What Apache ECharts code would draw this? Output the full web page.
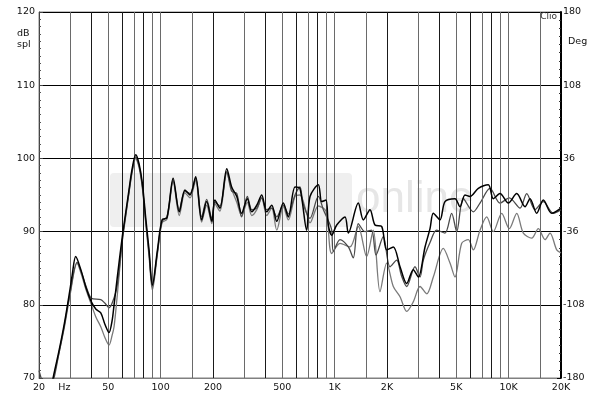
<!DOCTYPE html>
<html>
<head>
<meta charset="utf-8">
<script src="https://cdn.jsdelivr.net/npm/echarts@6/dist/echarts.min.js"></script>
<style>
html,body{margin:0;padding:0;background:#fff;}
#chart{width:600px;height:396px;}
</style>
</head>
<body>
<div id="chart"></div>
<script>
// axis labels (Hz) and the vertical grid lines of the Clio plot
var tickHz = [20, 28, 50, 100, 200, 500, 1000, 2000, 5000, 10000, 20000];
var tickText = ['20', 'Hz', '50', '100', '200', '500', '1K', '2K', '5K', '10K', '20K'];
var gridHz = [30, 40, 50, 60, 70, 80, 90, 100, 150, 200, 300, 400, 500, 600, 700, 800, 900,
  1000, 1500, 2000, 3000, 4000, 5000, 6000, 7000, 8000, 9000, 10000, 15000];

// measured curves, [Hz, dB spl]
var curveBlack = [[20,62],[21.7,64],[24.1,70],[26,73.6],[28,77.5],[30,81.8],[31,84],[32.5,86.6],[35,84.6],[37.3,82.3],
  [40,80.4],[42.5,79.4],[45.3,78.9],[47.9,77.3],[50.5,76.2],[52.6,77.8],[54,80],[56.2,83.5],[60.2,89.3],[63.2,92.8],
  [65.8,95.7],[68.5,98.5],[71.9,100.5],[75.1,99.3],[78.5,96.6],[82.4,91.5],[85.8,87.5],[89.7,82.7],[95.9,87.5],[101.9,91.6],
  [108.8,91.9],[118,97.3],[128,92.7],[138,95.7],[147.5,95],[159,97.5],[172,91.6],[184,94.1],[197,91.4],[205,94.3],
  [219,93.2],[240,98.6],[256,96.1],[274,94.8],[292,92.5],[315,94.5],[334,92.7],[357,93.6],[381,95],[407,92.7],
  [435,93.6],[465,91.4],[507,93.9],[542,92],[592,96.1],[632,95.9],[691,90.2],[722,94.8],[806,96.4],[843,94.1],
  [892,94.3],[920,90.9],[962,89.5],[1028,90.9],[1147,92],[1199,89.8],[1368,93.9],[1462,91.6],[1597,93],[1706,90.9],
  [1864,90.7],[1992,87.5],[2174,87.9],[2376,85.2],[2596,82.9],[2832,84.8],[3026,83.8],[3308,87.9],[3534,90.4],[3692,92.5],
  [4032,91.6],[4308,94.1],[4918,94.5],[5254,93.4],[5614,95],[5998,94.8],[6696,95.9],[7642,96.4],[8164,94.5],[8920,95.2],
  [9958,93.9],[11130,95.2],[12424,93.4],[13270,94.5],[14500,92.5],[15826,94.3],[17688,92.5],[20000,93.2]];

var curveDark = [[20,71],[20.8,69.5],[21.7,67],[24.1,69.5],[26,73.3],[28,77.2],[30,81.3],[33.1,85.8],[35,84.5],[37.3,82.5],
  [40,80.9],[45.3,80.7],[47.9,80.2],[50.5,79.6],[52.6,80.2],[56.2,82.5],[60.2,88.8],[63.2,92.5],[65.8,95.4],[68.5,98.2],
  [71.9,100.2],[75.1,99],[78.5,96.2],[82.4,91],[85.8,87],[89.7,82.4],[95.9,87.2],[101.9,91.4],[108.8,92],[118,97],
  [128,93],[138,95.5],[147.5,95.2],[159,97.3],[172,92],[184,94.4],[197,91.8],[205,94],[219,93.5],[240,98.2],
  [256,95.5],[274,95.2],[292,92],[315,94.8],[334,93],[357,93.2],[381,94.6],[407,93],[435,93.2],[465,92],
  [507,93.6],[542,92.4],[592,95],[632,96.1],[658,93.9],[722,91.8],[806,94.8],[862,93],[920,91.5],[962,90.2],
  [983,87.3],[1074,88.9],[1199,87.9],[1280,86.4],[1368,91.1],[1494,90],[1630,90.2],[1730,86.8],[1904,89.3],[2080,85.2],
  [2274,86.1],[2420,84],[2596,82.5],[2896,85.2],[3096,83.8],[3234,86.1],[3534,88.5],[3860,90.2],[4308,89.8],[4708,92.5],
  [5030,90],[5490,94.5],[6266,92.7],[6848,93.9],[7816,95.9],[8920,93.9],[10092,94.6],[11628,93.2],[12706,95.2],[14176,93],
  [15826,94.1],[18064,92.5],[20000,93]];

var curveLight = [[20,61],[24.1,69.8],[26,73.3],[28,77],[30,81],[33.1,85.7],[35,84.2],[37.3,82],[40,80],[42.5,78.3],
  [45.3,77],[47.9,75.5],[50.5,74.5],[52.6,75.8],[54,77],[56.2,81],[60.2,88.6],[63.2,92.3],[65.8,95.3],[68.5,98],
  [71.9,100],[75.1,98.8],[78.5,96],[82.4,90.8],[85.8,86.6],[89.7,82],[95.9,87],[101.9,91.2],[108.8,91.7],[118,96.8],
  [128,92.2],[138,95.3],[147.5,94.6],[159,97],[172,91.3],[184,93.6],[197,91.1],[205,93.8],[219,92.8],[240,98],
  [256,95.8],[274,94],[292,92.2],[315,94],[334,92.2],[357,93],[381,94.6],[407,92.2],[435,93.2],[465,90.2],
  [507,93.4],[542,91.6],[592,94.8],[632,95],[691,92.5],[722,91.2],[806,93.5],[892,92.8],[962,87],[1074,88.4],
  [1226,87.9],[1368,90.7],[1528,86.6],[1668,90.2],[1823,81.8],[1992,85.7],[2174,82.5],[2376,81.1],[2596,79.1],[2832,80.4],
  [3096,82.5],[3384,81.5],[3692,83.8],[4214,87.7],[4604,85.7],[4918,83.8],[5374,88.4],[5866,88.9],[6266,87.5],[6848,90.2],
  [7482,92],[8164,90],[9124,92.5],[10092,90.4],[11130,92.5],[12146,89.8],[13572,89.1],[14810,90.4],[16184,88.9],[17294,89.8],
  [18896,87.5],[20000,87.1]];

function toLog(arr) {
  return arr.map(function (p) { return [Math.log10(p[0]), p[1]]; });
}

var font = 'DejaVu Sans';
var gridLines = gridHz.map(function (hz) {
  var d = hz / Math.pow(10, Math.floor(Math.log10(hz)));
  var dark = (d === 2 || d === 4 || d === 6 || d === 8);
  return { xAxis: Math.log10(hz), lineStyle: { color: dark ? '#1a1a1a' : '#6a6a6a', width: 1, type: 'solid' } };
});

var chart = echarts.init(document.getElementById('chart'));
var option = {
  animation: false,
  backgroundColor: '#fff',
  grid: { left: 39, right: 39, top: 12, bottom: 18, show: true, borderColor: '#808080', borderWidth: 1 },
  xAxis: {
    type: 'value',
    min: Math.log10(20),
    max: Math.log10(20000),
    axisLine: { show: true, lineStyle: { color: '#808080', width: 1 } },
    axisTick: { show: false },
    splitLine: { show: false },
    axisLabel: {
      customValues: tickHz.map(function (h) { return Math.log10(h); }),
      margin: 5,
      color: '#111',
      fontFamily: font,
      fontSize: 9.5,
      formatter: function (v) {
        for (var i = 0; i < tickHz.length; i++) {
          if (Math.abs(Math.log10(tickHz[i]) - v) < 1e-6) return tickText[i];
        }
        return '';
      }
    }
  },
  yAxis: [{
    type: 'value',
    min: 70, max: 120, interval: 10,
    position: 'left',
    axisLine: { show: true, lineStyle: { color: '#444', width: 1 } },
    axisTick: { show: true, inside: true, length: 4, lineStyle: { color: '#444' } },
    minorTick: { show: true, splitNumber: 10, length: 2, lineStyle: { color: '#555' } },
    splitLine: { show: true, lineStyle: { color: '#000', width: 1 } },
    axisLabel: { color: '#111', fontFamily: font, fontSize: 9.5, margin: 4 }
  }, {
    type: 'value',
    min: 0, max: 360, interval: 72,
    position: 'right',
    axisLine: { show: true, lineStyle: { color: '#000', width: 2 } },
    axisTick: { show: true, inside: true, length: 4, lineStyle: { color: '#000' } },
    minorTick: { show: true, splitNumber: 9, length: 2, lineStyle: { color: '#333' } },
    splitLine: { show: false },
    axisLabel: {
      color: '#111', fontFamily: font, fontSize: 9.5, margin: 2,
      formatter: function (v) { return String(v - 180); }
    }
  }],
  graphic: [
    { type: 'rect', z: 0, shape: { x: 110, y: 173, width: 242, height: 54, r: 4 }, style: { fill: '#efefef' } },
    { type: 'text', z: 0, left: 356, top: 178, style: { text: 'online', fill: '#e6e6e6', font: '44px "Liberation Sans"' } },
    { type: 'text', z: 10, left: 17, top: 28, style: { text: 'dB\nspl', fill: '#111', font: '9.5px "DejaVu Sans"', lineHeight: 11 } },
    { type: 'text', z: 10, left: 568, top: 37, style: { text: 'Deg', fill: '#111', font: '9.5px "DejaVu Sans"' } },
    { type: 'text', z: 10, right: 43, top: 12, style: { text: 'Clio', fill: '#333', font: '9px "DejaVu Sans"' } }
  ],
  series: [
    {
      type: 'line', data: [], z: 1, silent: true,
      markLine: { silent: true, symbol: ['none', 'none'], label: { show: false }, animation: false, data: gridLines }
    },
    {
      name: 'light', type: 'line', data: toLog(curveLight), z: 3, smooth: 0.3, symbol: 'none',
      lineStyle: { color: '#7a7a7a', width: 1.3 }
    },
    {
      name: 'dark', type: 'line', data: toLog(curveDark), z: 4, smooth: 0.3, symbol: 'none',
      lineStyle: { color: '#4a4a4a', width: 1.3 }
    },
    {
      name: 'black', type: 'line', data: toLog(curveBlack), z: 5, smooth: 0.3, symbol: 'none',
      lineStyle: { color: '#000', width: 1.5 }
    }
  ]
};
chart.setOption(option);
</script>
</body>
</html>
